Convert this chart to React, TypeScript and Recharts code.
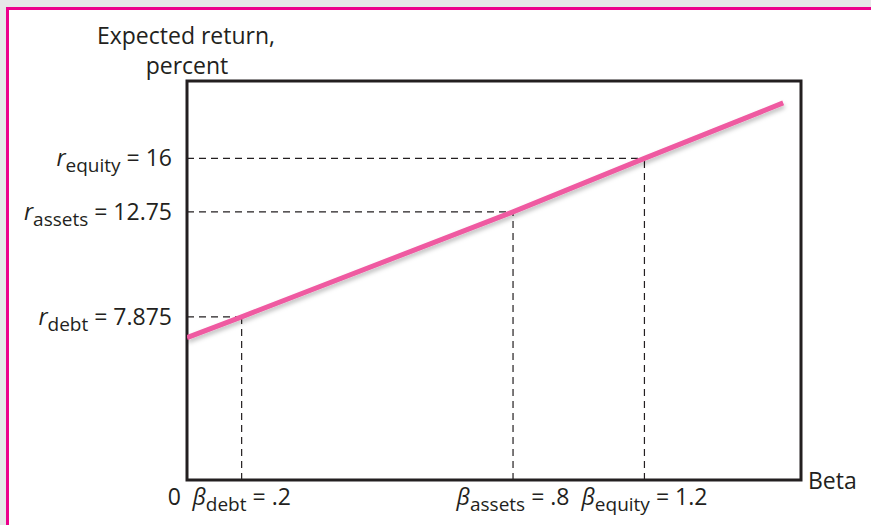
import React from 'react';
import { LineChart, Line, XAxis, YAxis, ReferenceLine, ReferenceArea, Label } from 'recharts';

// the figure is schematic (not to scale), so each value has a position on a 0-100 axis
const securities = ['debt', 'assets', 'equity'];
const betaLabels = ['.2', '.8', '1.2'];
const returnLabels = ['7.875', '12.75', '16'];
const betaPos = [8.9, 53.1, 74.5];
const returnPos = [40.9, 67.2, 80.6];
const lineStart = { b: 0, r: 35.7 };
const lineEnd = { b: 97.1, r: 94.5 };

const lineData = [
  lineStart,
  ...securities.map((_, i) => ({ b: betaPos[i], r: returnPos[i] })),
  lineEnd,
];

const FONT = '"Open Sans", Lato, sans-serif';
const INK = '#231f20';
const PINK = '#ef5aa1';
const SIZE = 23;
const SUB = 19;

const YTick = (props: any) => {
  const { x, y, payload } = props;
  const i = returnPos.indexOf(payload.value);
  if (i < 0) return null;
  return (
    <text x={x} y={y + 8} textAnchor="end" fontFamily={FONT} fontSize={SIZE} fill={INK}>
      <tspan fontStyle="italic">r</tspan>
      <tspan fontSize={SUB} dy={6}>{securities[i]}</tspan>
      <tspan dy={-6}>{' = ' + returnLabels[i]}</tspan>
    </text>
  );
};

const XTick = (props: any) => {
  const { x, y, payload } = props;
  if (payload.value === 0) {
    return (
      <text x={x - 6} y={y + 25} textAnchor="end" fontFamily={FONT} fontSize={SIZE} fill={INK}>0</text>
    );
  }
  const i = betaPos.indexOf(payload.value);
  if (i < 0) return null;
  return (
    <text x={x} y={y + 25} textAnchor="middle" fontFamily={FONT} fontSize={SIZE} fill={INK}>
      <tspan fontStyle="italic">β</tspan>
      <tspan fontSize={SUB} dy={6}>{securities[i]}</tspan>
      <tspan dy={-6}>{' = ' + betaLabels[i]}</tspan>
    </text>
  );
};

export default function App() {
  return (
    <div style={{ position: 'absolute', left: 0, top: 0, width: 871, height: 525, background: '#e6e7e8', overflow: 'hidden' }}>
      <div style={{ position: 'absolute', left: 6, top: 7, width: 880, height: 530, border: '3px solid #ec008c', background: '#fff' }} />
      <div style={{ position: 'absolute', left: 0, top: 0 }}>
        <LineChart width={871} height={525} data={lineData} margin={{ top: 81, right: 70, left: 17, bottom: 0 }}>
          <defs>
            <filter id="lineShadow" x="-10%" y="-50%" width="120%" height="200%">
              <feDropShadow dx="1" dy="3" stdDeviation="2" floodColor="#000" floodOpacity="0.25" />
            </filter>
          </defs>
          <XAxis
            dataKey="b"
            type="number"
            domain={[0, 100]}
            allowDataOverflow
            ticks={[0, ...betaPos]}
            interval={0}
            axisLine={false}
            tickLine={false}
            tickSize={0}
            tickMargin={0}
            height={45}
            tick={<XTick />}
          >
            <Label
              content={() => (
                <text x={808} y={489} fontFamily={FONT} fontSize={SIZE} fill={INK}>Beta</text>
              )}
            />
          </XAxis>
          <YAxis
            type="number"
            domain={[0, 100]}
            allowDataOverflow
            ticks={returnPos}
            interval={0}
            axisLine={false}
            tickLine={false}
            tickSize={0}
            tickMargin={15}
            width={170}
            tick={<YTick />}
          >
            <Label
              content={() => (
                <text fontFamily={FONT} fontSize={SIZE} fill={INK} textAnchor="middle">
                  <tspan x={186} y={44}>Expected return,</tspan>
                  <tspan x={187} y={74}>percent</tspan>
                </text>
              )}
            />
          </YAxis>
          {securities.map((s, i) => (
            <ReferenceLine
              key={'h' + s}
              segment={[{ x: 0, y: returnPos[i] }, { x: betaPos[i], y: returnPos[i] }]}
              stroke={INK}
              strokeWidth={1.2}
              strokeDasharray="7 5"
            />
          ))}
          {securities.map((s, i) => (
            <ReferenceLine
              key={'v' + s}
              segment={[{ x: betaPos[i], y: 0 }, { x: betaPos[i], y: returnPos[i] }]}
              stroke={INK}
              strokeWidth={1.2}
              strokeDasharray="7 5"
            />
          ))}
          <ReferenceArea x1={0} x2={100} y1={0} y2={100} fill="none" fillOpacity={0} stroke={INK} strokeWidth={3} />
          <Line
            dataKey="r"
            type="linear"
            stroke={PINK}
            strokeWidth={5}
            dot={false}
            activeDot={false}
            filter="url(#lineShadow)"
            isAnimationActive={false}
          />
        </LineChart>
      </div>
    </div>
  );
}
